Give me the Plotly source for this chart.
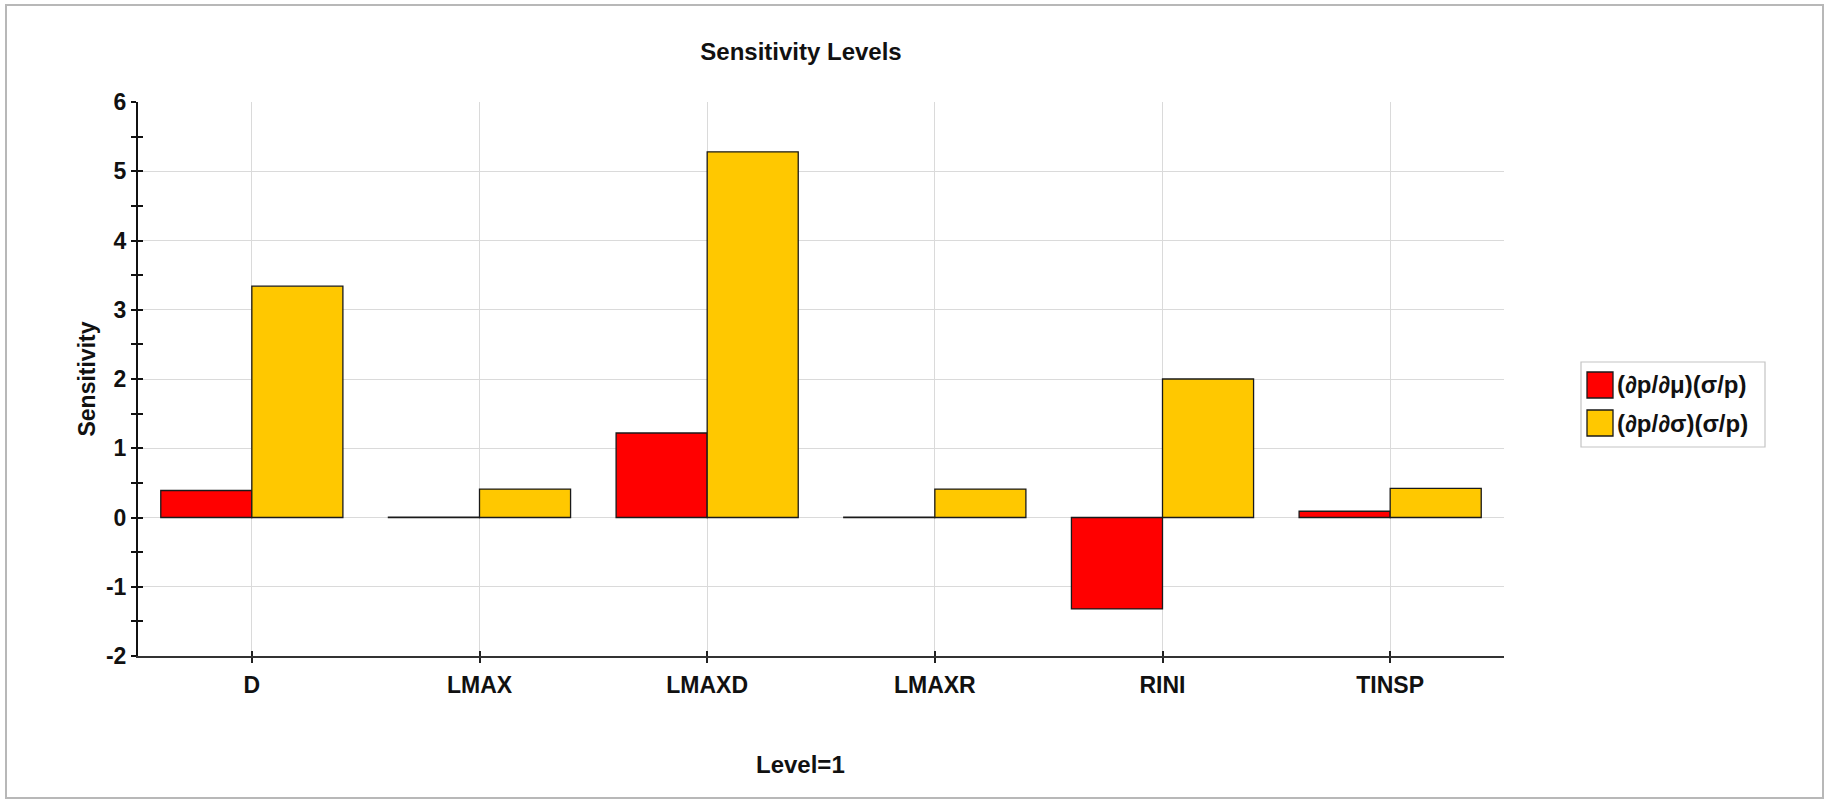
import plotly.graph_objects as go

# Sensitivity values per parameter at level 1
categories = ["D", "LMAX", "LMAXD", "LMAXR", "RINI", "TINSP"]
mu_sensitivity = [0.39, 0.004, 1.22, 0.004, -1.32, 0.09]
sigma_sensitivity = [3.34, 0.41, 5.28, 0.41, 2.00, 0.42]
series_names = ["(∂p/∂μ)(σ/p)", "(∂p/∂σ)(σ/p)"]
series_colors = ["#ff0000", "#ffc800"]
y_ticks = [-2, -1, 0, 1, 2, 3, 4, 5, 6]

W, H = 1829, 802
L, R, T, B = 138, 1504, 102, 656  # plot area in pixels
FONT = "Liberation Sans, Arial, sans-serif"


def px(x):
    return (x - L) / (R - L)


def py(y):
    return (B - y) / (B - T)


fig = go.Figure()
for name, vals, col in zip(series_names, [mu_sensitivity, sigma_sensitivity], series_colors):
    fig.add_trace(go.Bar(
        x=categories, y=vals, name=name,
        marker=dict(color=col, line=dict(color="#1a1a1a", width=1.3)),
        showlegend=False,
    ))

# helper trace for the overlay axes that draw the inner half of each tick
fig.add_trace(go.Scatter(x=categories, y=[None] * len(categories), xaxis="x2", yaxis="y2",
                         mode="lines", showlegend=False, hoverinfo="skip"))

tick_font = dict(family=FONT, size=23, color="#111111", weight="bold")

fig.update_layout(
    width=W, height=H,
    margin=dict(l=L, r=W - R, t=T, b=H - B),
    paper_bgcolor="white", plot_bgcolor="white",
    barmode="group", bargap=0.2, bargroupgap=0,
    title=dict(text="Sensitivity Levels", x=801 / W, xref="container", xanchor="center",
               y=1 - 52 / H, yref="container", yanchor="middle",
               font=dict(family=FONT, size=24, color="#111111", weight="bold")),
    xaxis=dict(
        type="category", categoryorder="array", categoryarray=categories,
        showgrid=True, gridcolor="#dadada", gridwidth=1.4,
        showline=True, linecolor="#333333", linewidth=2.4,
        ticks="outside", ticklen=5, tickwidth=2, tickcolor="#222222",
        tickfont=tick_font, ticklabelstandoff=2,
    ),
    yaxis=dict(
        range=[-2, 6], tickvals=y_ticks, ticktext=[str(v) for v in y_ticks],
        showgrid=True, gridcolor="#dadada", gridwidth=1.4, zeroline=False,
        showline=True, linecolor="#111111", linewidth=2,
        ticks="outside", ticklen=5, tickwidth=2, tickcolor="#111111",
        minor=dict(ticks="outside", ticklen=5, tickwidth=2, tickcolor="#111111", dtick=0.5, showgrid=False),
        tickfont=tick_font,
        title=dict(text="Sensitivity", font=dict(family=FONT, size=23, color="#111111", weight="bold"),
                   standoff=4),
    ),
    xaxis2=dict(
        type="category", categoryorder="array", categoryarray=categories,
        overlaying="x", matches="x", anchor="y2", side="bottom",
        showgrid=False, showline=False, showticklabels=False,
        ticks="inside", ticklen=5, tickwidth=2, tickcolor="#222222",
    ),
    yaxis2=dict(
        range=[-2, 6], tickvals=y_ticks, overlaying="y", matches="y", anchor="x2", side="left",
        showgrid=False, showline=False, showticklabels=False, zeroline=False,
        ticks="inside", ticklen=5, tickwidth=2, tickcolor="#111111",
        minor=dict(ticks="inside", ticklen=5, tickwidth=2, tickcolor="#111111", dtick=0.5, showgrid=False),
    ),
)

# x-axis caption
fig.add_annotation(text="Level=1", xref="paper", yref="paper", x=px(800), y=py(764),
                   xanchor="center", yanchor="middle", showarrow=False,
                   font=dict(family=FONT, size=24, color="#111111", weight="bold"))

# outer chart frame
fig.add_shape(type="rect", xref="paper", yref="paper",
              x0=px(6), x1=px(1823), y0=py(5), y1=py(798),
              line=dict(color="#b8b8b8", width=2), fillcolor="rgba(0,0,0,0)", layer="below")

# legend box with swatches and labels
fig.add_shape(type="rect", xref="paper", yref="paper",
              x0=px(1581), x1=px(1765), y0=py(362), y1=py(447),
              line=dict(color="#c4c4c4", width=1.2), fillcolor="white")
for i, (name, col) in enumerate(zip(series_names, series_colors)):
    cy = 385 + i * 38
    fig.add_shape(type="rect", xref="paper", yref="paper",
                  x0=px(1587), x1=px(1613), y0=py(cy - 13), y1=py(cy + 13),
                  line=dict(color="#1a1a1a", width=1.3), fillcolor=col)
    fig.add_annotation(text=name, xref="paper", yref="paper", x=px(1615), y=py(cy),
                       xanchor="left", yanchor="middle", showarrow=False,
                       font=dict(family=FONT, size=24, color="#111111", weight="bold"))

fig.write_html("out.html")
